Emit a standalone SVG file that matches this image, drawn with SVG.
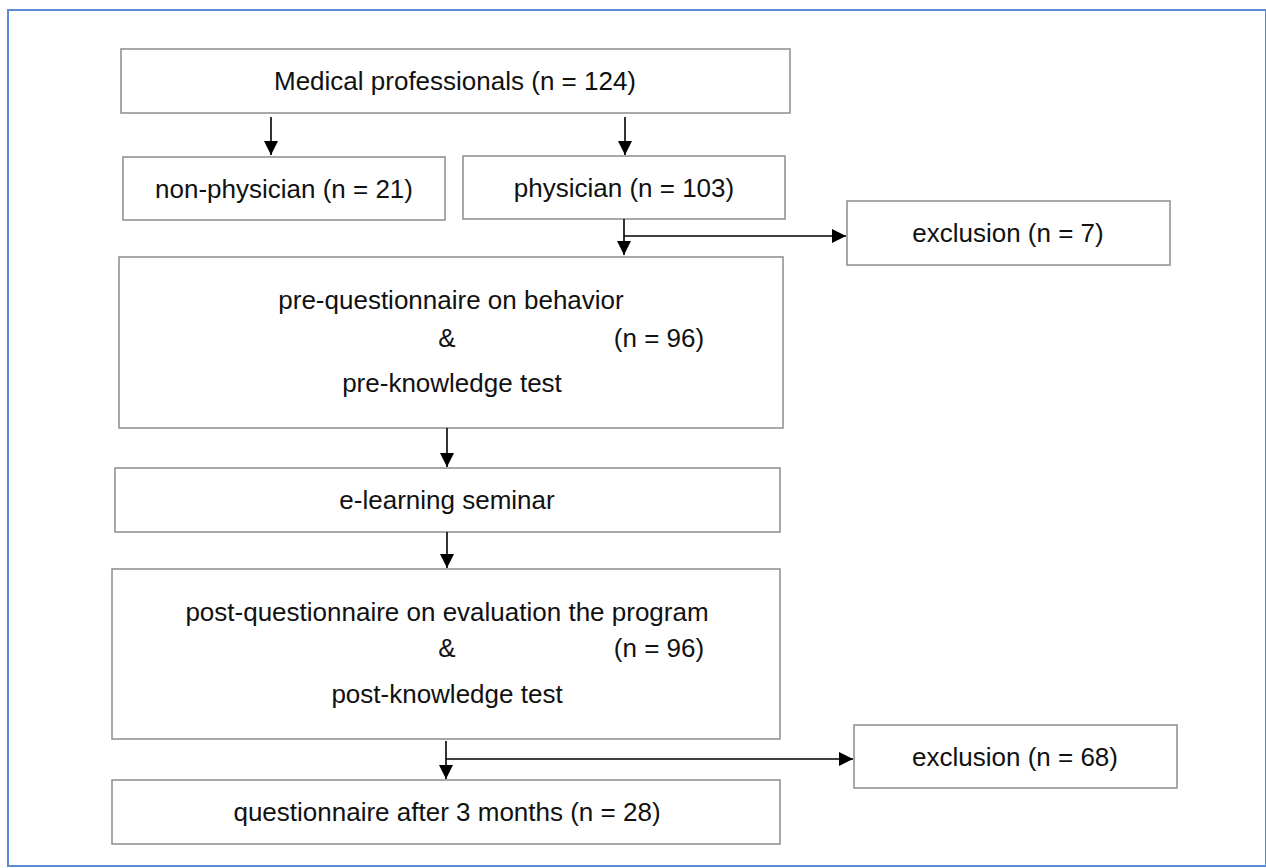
<svg xmlns="http://www.w3.org/2000/svg" width="1266" height="868" viewBox="0 0 1266 868">
<style>
.box{fill:#fff;stroke:#8c8c8c;stroke-width:1.5}
.t{font-family:"Liberation Sans",Arial,sans-serif;font-size:26px;fill:#111;text-anchor:middle}
.c{fill:none;stroke:#000;stroke-width:1.6}
</style>
<defs>
<marker id="ah" markerUnits="userSpaceOnUse" markerWidth="16" markerHeight="16" viewBox="0 0 16 16" refX="15" refY="8" orient="auto">
<path d="M1,1 L15,8 L1,15 Z" fill="#000"/>
</marker>
</defs>
<rect x="0" y="0" width="1266" height="868" fill="#fff"/>
<rect x="8" y="10" width="1258" height="856" fill="none" stroke="#5b8bd0" stroke-width="2"/>
<g id="n-medical"><rect class="box" x="121" y="49" width="669" height="64"/><text class="t" x="455" y="90">Medical professionals (n = 124)</text></g>
<g id="n-nonphys"><rect class="box" x="123" y="157" width="322" height="63"/><text class="t" x="284" y="198">non-physician (n = 21)</text></g>
<g id="n-phys"><rect class="box" x="463" y="156" width="322" height="63"/><text class="t" x="624" y="197">physician (n = 103)</text></g>
<g id="n-excl7"><rect class="box" x="847" y="201" width="323" height="64"/><text class="t" x="1008" y="242">exclusion (n = 7)</text></g>
<g id="n-pre"><rect class="box" x="119" y="257" width="664" height="171"/>
<text class="t" x="451" y="309">pre-questionnaire on behavior</text>
<text class="t" x="447" y="347">&amp;</text>
<text class="t" x="659" y="347">(n = 96)</text>
<text class="t" x="452" y="392">pre-knowledge test</text></g>
<g id="n-elearn"><rect class="box" x="115" y="468" width="665" height="64"/><text class="t" x="447" y="509">e-learning seminar</text></g>
<g id="n-post"><rect class="box" x="112" y="569" width="668" height="170"/>
<text class="t" x="447" y="621">post-questionnaire on evaluation the program</text>
<text class="t" x="447" y="657">&amp;</text>
<text class="t" x="659" y="657">(n = 96)</text>
<text class="t" x="447" y="703">post-knowledge test</text></g>
<g id="n-excl68"><rect class="box" x="854" y="725" width="323" height="63"/><text class="t" x="1015" y="766">exclusion (n = 68)</text></g>
<g id="n-q3"><rect class="box" x="112" y="780" width="668" height="64"/><text class="t" x="447" y="821">questionnaire after 3 months (n = 28)</text></g>
<g id="connectors">
<line class="c" x1="271" y1="117" x2="271" y2="155" marker-end="url(#ah)"/>
<line class="c" x1="625" y1="117" x2="625" y2="155" marker-end="url(#ah)"/>
<line class="c" x1="624" y1="219" x2="624" y2="255" marker-end="url(#ah)"/>
<line class="c" x1="624" y1="236" x2="846" y2="236" marker-end="url(#ah)"/>
<line class="c" x1="447" y1="428" x2="447" y2="467" marker-end="url(#ah)"/>
<line class="c" x1="447" y1="532" x2="447" y2="568" marker-end="url(#ah)"/>
<line class="c" x1="446" y1="741" x2="446" y2="779" marker-end="url(#ah)"/>
<line class="c" x1="446" y1="759" x2="853" y2="759" marker-end="url(#ah)"/>
</g>
</svg>
